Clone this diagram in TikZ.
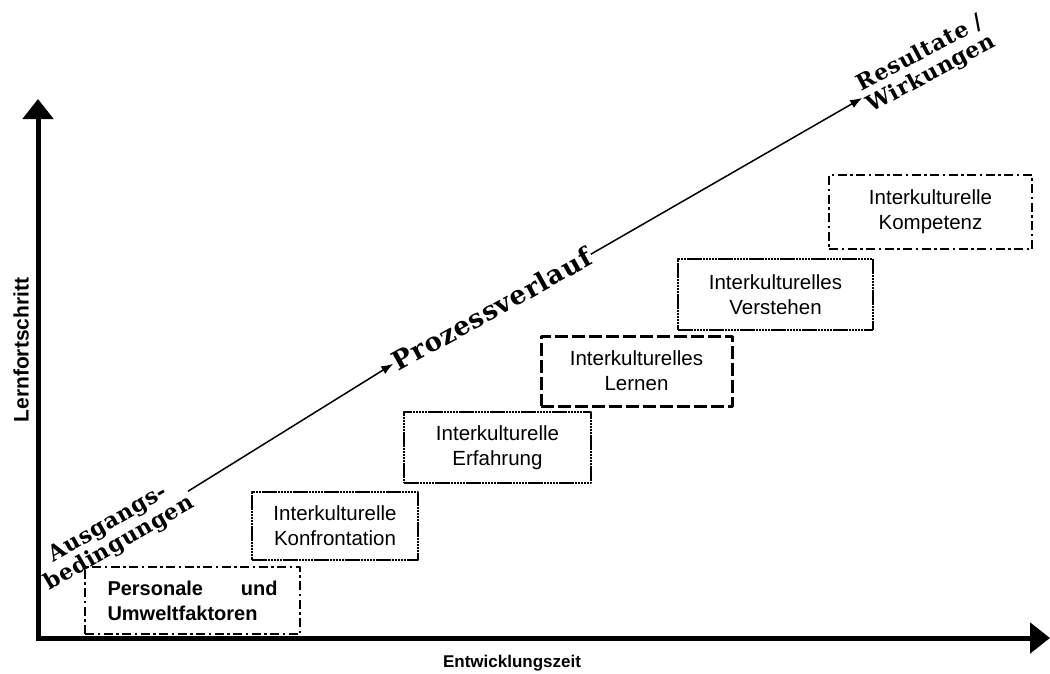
\documentclass[tikz,border=0pt]{standalone}
\usepackage{fontspec}
\setmainfont{Liberation Sans}
\newfontfamily\slabfont[LetterSpace=3]{DejaVu Serif}
\usetikzlibrary{arrows.meta}
\begin{document}
\begin{tikzpicture}[x=1pt, y=-1pt, line join=round, >=Stealth,
		stufe/.style={draw, line width=2.5pt, minimum width=#1, align=center, font=\fontsize{20.5}{25}\selectfont},
		punkt/.style={dash pattern=on 2.5pt off 0.6pt},
		strich/.style={dash pattern=on 13pt off 4pt, line width=3pt},
		strichpunkt/.style={dash pattern=on 9pt off 3.5pt on 2.5pt off 3.5pt},
		prozess/.style={inner sep=1pt, align=center, font=\slabfont\bfseries\fontsize{22}{23}\selectfont},
		achse/.style={line width=5pt, line join=miter, {Triangle[length=20pt,width=30pt]}-{Triangle[length=20pt,width=30pt]}},
		pfeil/.style={line width=1.5pt, -{Latex[length=12pt,width=9pt]}}]
		\useasboundingbox (0,0) rectangle (1050,673);
		% axes
		\coordinate (O) at (38,638);
		\coordinate (ytip) at (38,99);
		\coordinate (xtip) at (1050,638);
		\draw[achse] (ytip) -- (O) -- (xtip);
		\node[rotate=90, font=\bfseries\fontsize{21}{22}\selectfont] (lern) at (21,350) {Lernfortschritt};
		\node[font=\bfseries\fontsize{17}{20}\selectfont] (zeit) at (512,663) {Entwicklungszeit};
		% stages
		\node[stufe=215, minimum height=67, strichpunkt, font=\bfseries\fontsize{20}{25}\selectfont, align=left] (pers) at (192.5,600.5) {\makebox[170pt][l]{Personale\hfill und}\\Umweltfaktoren};
		\node[stufe=166, minimum height=68, punkt] (konfr) at (335,526) {Interkulturelle\\Konfrontation};
		\node[stufe=187, minimum height=71, punkt] (erf) at (497.5,447.5) {Interkulturelle\\Erfahrung};
		\node[stufe=191, minimum height=70, strich] (lernen) at (636.5,371) {Interkulturelles\\Lernen};
		\node[stufe=195, minimum height=71, punkt] (verst) at (775.5,294.5) {Interkulturelles\\Verstehen};
		\node[stufe=203, minimum height=74, strichpunkt] (komp) at (930.5,212) {Interkulturelle\\Kompetenz};
		% process
		\node[prozess, rotate=30] (ausg) at (114,534) {Ausgangs-\\bedingungen};
		\node[prozess, rotate=29, font=\slabfont\bfseries\fontsize{26}{26}\selectfont] (proz) at (492,309) {Prozessverlauf};
		\node[prozess, rotate=28] (result) at (926,64) {Resultate /\\Wirkungen};
		\draw[pfeil] (ausg.east) -- (proz.west);
		\draw[pfeil] (proz.east) -- (result.west);
	\end{tikzpicture}
\end{document}
